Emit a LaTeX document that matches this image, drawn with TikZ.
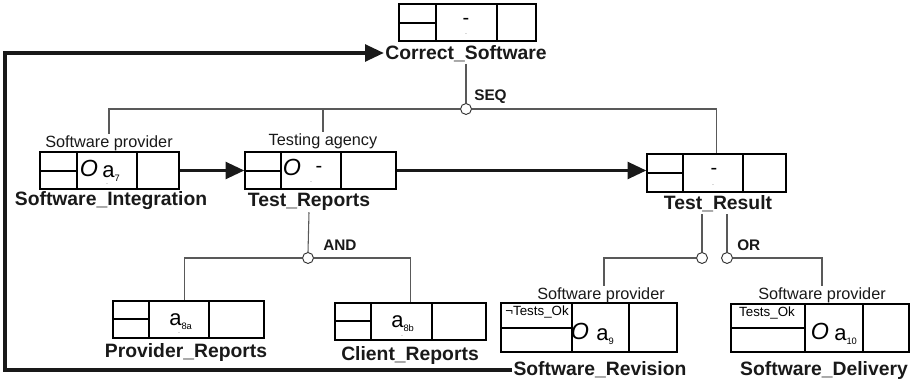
\documentclass[tikz,border=0pt]{standalone}
\usepackage{fontspec}
\setmainfont{Liberation Sans}
\usetikzlibrary{arrows.meta,fit,calc}
\newcommand{\fsz}[1]{\fontsize{#1}{#1}\selectfont}
\newcommand{\subsc}[1]{\raisebox{-3pt}{\fsz{7}#1}}
% name, left, top, right, bottom, divider1, divider2, hline
\newcommand{\actbox}[8]{%
  \path (#2,#3) coordinate (#1-nw) (#4,#5) coordinate (#1-se);
  \node[actst, fit=(#1-nw)(#1-se)] (#1) {};
  \draw[cellst] (#6,#3) -- (#6,#5) (#7,#3) -- (#7,#5) (#2,#8) -- (#6,#8);
}
\begin{document}
\begin{tikzpicture}[x=0.75pt,y=-0.75pt,
  actst/.style={draw=black, line width=1pt, inner sep=0pt},
  cellst/.style={draw=black, line width=0.8pt},
  lbl/.style={font=\fsz{14.5}\bfseries, inner sep=1pt, text=black!90},
  role/.style={font=\fsz{12.2}, inner sep=1pt, text=black!90},
  opl/.style={font=\fsz{11.5}\bfseries, inner sep=0pt, text=black!90},
  junc/.style={circle, draw=black!80, fill=white, line width=0.7pt, minimum size=8.2pt, inner sep=0pt},
  tree/.style={draw=black!65, line width=0.8pt},
  flow/.style={draw=black!90, line width=2.4pt, -{Triangle[length=14pt,width=12.5pt]}},
  bigO/.style={font=\fsz{17.5}\itshape, inner sep=0pt},
  aa/.style={font=\fsz{16.5}, inner sep=0pt},
  dashtxt/.style={font=\fsz{15}, inner sep=0pt},
  dotl/.style={font=\fsz{4}, inner sep=0pt},
  cond/.style={font=\fsz{10}, inner sep=0pt}
]
\useasboundingbox (0,0) rectangle (912,384);

% ---------- boxes ----------
\actbox{cs}{399}{4}{536}{41}{436}{497}{23}
\actbox{si}{40}{152}{179}{189}{77}{137}{171}
\actbox{tr}{245}{152}{396}{189}{281}{341}{171}
\actbox{res}{647}{154}{786}{192}{683}{743}{173}
\actbox{pr}{113}{301}{264}{338}{149}{209}{319}
\actbox{cr}{335}{303}{486}{340}{371}{432}{321}
\actbox{rev}{501}{303}{677}{352}{572}{629}{328}
\actbox{del}{731}{304}{909}{352}{805}{863}{328}

% ---------- box contents ----------
\node[dashtxt] (csd) at (466,21) {-};
\node[dotl] (csdot) at (466,34) {.};

\node[bigO] (siO) at (89,168) {O};
\node[aa, anchor=west] (sia) at (102,174) {a\subsc{7}};
\node[dotl] (sidot) at (107,184) {.};

\node[bigO] (trO) at (292,167) {O};
\node[dashtxt] (trd) at (319,169) {-};
\node[dotl] (trdot) at (311,182) {.};

\node[dashtxt] (resd) at (714,171) {-};
\node[dotl] (resdot) at (713,185) {.};

\node[aa, anchor=west] (pra) at (169,322) {a\subsc{8a}};
\node[dotl] (prdot) at (179,333) {.};

\node[aa, anchor=west] (cra) at (391,324) {a\subsc{8b}};
\node[dotl] (crdot) at (402,336) {.};

\node[cond] (revc) at (537,312) {¬Tests\_Ok};
\node[bigO] (revO) at (580,331) {O};
\node[aa, anchor=west] (reva) at (596,337) {a\subsc{9}};

\node[cond] (delc) at (767,313) {Tests\_Ok};
\node[bigO] (delO) at (820,331) {O};
\node[aa, anchor=west] (dela) at (834,337) {a\subsc{10}};

% ---------- labels ----------
\node[lbl] (csl) at (466,54) {Correct\_Software};
\node[lbl] (sil) at (111,201) {Software\_Integration};
\node[lbl] (trl) at (309,202) {Test\_Reports};
\node[lbl] (resl) at (718,204) {Test\_Result};
\node[lbl] (prl) at (186,352) {Provider\_Reports};
\node[lbl] (crl) at (410,355) {Client\_Reports};
\node[lbl] (revl) at (600,370) {Software\_Revision};
\node[lbl] (dell) at (824,370) {Software\_Delivery};

\node[role] (sip) at (109,143) {Software provider};
\node[role] (tra) at (323,141) {Testing agency};
\node[role] (revp) at (601,295) {Software provider};
\node[role] (delp) at (822,295) {Software provider};

% ---------- junctions ----------
\node[junc] (seq) at (466,109) {};
\node[opl, anchor=west] (seqt) at (474,97) {SEQ};
\node[junc] (andj) at (308,258) {};
\node[opl, anchor=west] (andt) at (323,245) {AND};
\node[junc] (or1) at (702,258) {};
\node[junc] (or2) at (727,258) {};
\node[opl, anchor=west] (ort) at (737,245) {OR};

\coordinate (prtop) at ($(pr.north)+(-4,0)$);
\coordinate (revtop) at ($(revp.north)+(3,0)$);

\path[tree] (csl.south) -- (seq.north);
\path[tree] (seq.west) -| (sip.north);
\path[tree] (seq.east) -| (res.north);
\path[tree] (tra.north) -- (tra.north |- seq.center);
\path[tree] (trl.south) -- (andj.north);
\path[tree] (andj.west) -| (prtop);
\path[tree] (andj.east) -| (cr.north);
\path[tree] (or1.north) -- (or1.north |- resl.south);
\path[tree] (or2.north) -- (or2.north |- resl.south);
\path[tree] (or1.west) -| (revtop);
\path[tree] (or2.east) -| (delp.north);

% ---------- flow arrows ----------
\draw[flow] (si.east) -- (tr.west);
\draw[flow] (tr.east) -- (tr.east -| res.west);
\coordinate (loopA) at (5,369);
\coordinate (loopB) at (5,53);
\draw[flow] (revl.west) -- (revl.west -| loopA) -- (loopB) -- (loopB -| csl.west);
\end{tikzpicture}
\end{document}
